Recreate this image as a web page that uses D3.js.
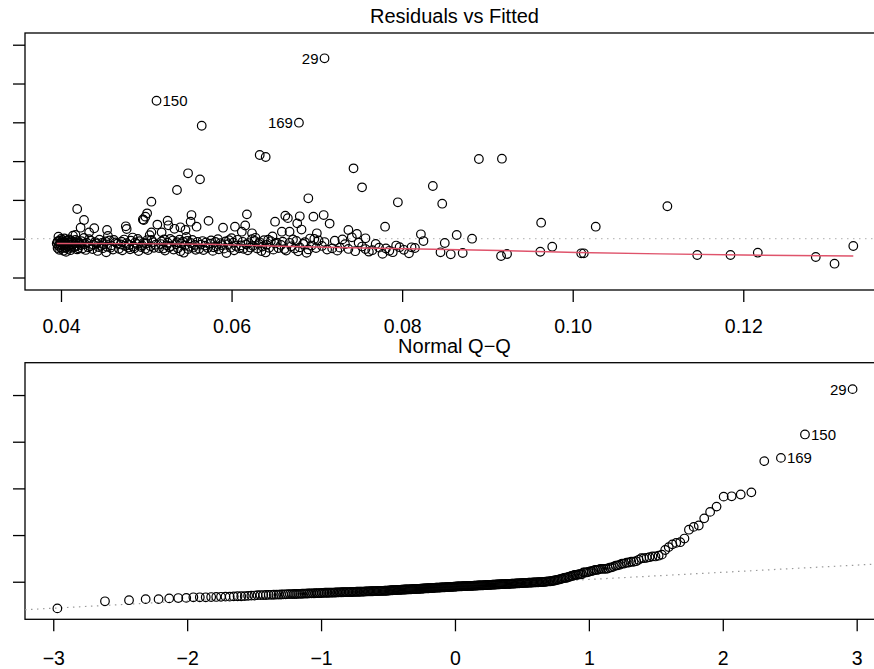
<!DOCTYPE html>
<html>
<head>
<meta charset="utf-8">
<title>Residuals vs Fitted / Normal Q-Q</title>
<script src="https://d3js.org/d3.v7.min.js"></script>
<style>
  body { margin: 0; background: #fff; }
  svg text { font-family: "Liberation Sans", Arial, sans-serif; fill: #000; }
</style>
</head>
<body>
<svg width="874" height="669" id="mainSvg"></svg>
<script>
// ---- data ----
// labelled observations: [fitted, residual]
const pointIds = ["29", "150", "169"];
const idPoints = [[0.0709, 0.2325], [0.0512, 0.1778], [0.0679, 0.1495]];

// points that stand out from the dense band
const outerPoints = [
  [0.0565,0.1456],[0.0633,0.1079],[0.0640,0.1053],[0.0549,0.0843],[0.0563,0.0765],[0.0536,0.0628],
  [0.0506,0.0477],[0.0419,0.0383],[0.0743,0.0907],[0.0753,0.0662],[0.0690,0.0521],[0.0795,0.0469],
  [0.0836,0.0679],[0.0847,0.0451],[0.0890,0.1027],[0.0917,0.1031],[0.0963,0.0206],[0.1027,0.0155],
  [0.1111,0.0418],[0.0427,0.0241],[0.0423,0.0142],[0.0433,0.0082],[0.0417,0.0048],[0.0501,0.0327],
  [0.0499,0.0284],[0.0497,0.0241],[0.0553,0.0305],[0.0552,0.0219],[0.0559,0.0155],[0.0525,0.0232],
  [0.0526,0.0173],[0.0540,0.0147],[0.0546,0.0112],[0.0506,0.0082],[0.0518,0.0082],[0.0477,0.0125],
  [0.0454,0.0112],[0.0618,0.0314],[0.0604,0.0155],[0.0612,0.0090],[0.0624,0.0070],[0.0651,0.0219],
  [0.0663,0.0296],[0.0659,0.0090],[0.0668,0.0090],[0.0677,0.0198],[0.0680,0.0289],[0.0696,0.0284],
  [0.0708,0.0305],[0.0700,0.0070],[0.0737,0.0112],[0.0747,0.0061],[0.0780,0.0155],[0.0822,0.0057],
  [0.0864,0.0048],[0.0757,0.0005],[0.0882,0.0000],[0.0825,-0.0030],[0.0850,-0.0055],[0.0845,-0.0175],
  [0.0857,-0.0201],[0.0871,-0.0184],[0.0916,-0.0223],[0.0923,-0.0197],[0.0962,-0.0168],[0.0976,-0.0103],
  [0.1010,-0.0188],[0.1013,-0.0188],[0.1146,-0.0210],[0.1185,-0.0210],[0.1217,-0.0180],[0.1285,-0.0236],
  [0.1307,-0.0322],[0.1329,-0.0094],[0.0811,-0.0111]
];

// the dense band near zero (estimated)
const bandPoints = [
  [0.0395,-0.0062],[0.0396,-0.0121],[0.0396,-0.0035],[0.0397,-0.0088],[0.0397,0.0026],[0.0398,-0.0142],
  [0.0398,-0.0025],[0.0399,-0.0110],[0.0399,-0.0071],[0.0400,-0.0048],[0.0400,-0.0004],[0.0401,-0.0128],
  [0.0401,-0.0056],[0.0402,-0.0095],[0.0402,-0.0019],[0.0403,-0.0155],[0.0403,-0.0041],[0.0404,-0.0079],
  [0.0404,0.0004],[0.0405,-0.0113],[0.0405,-0.0052],[0.0406,-0.0066],[0.0406,-0.0170],[0.0407,-0.0029],
  [0.0408,-0.0132],[0.0408,-0.0101],[0.0409,-0.0009],[0.0410,-0.0044],[0.0410,-0.0084],[0.0411,-0.0148],
  [0.0412,-0.0022],[0.0412,-0.0119],[0.0413,-0.0075],[0.0414,0.0040],[0.0414,-0.0038],[0.0415,-0.0105],
  [0.0416,-0.0109],[0.0417,-0.0058],[0.0417,-0.0014],[0.0418,-0.0092],[0.0419,-0.0032],[0.0419,-0.0138],
  [0.0420,-0.0125],[0.0421,-0.0046],[0.0422,-0.0061],
  [0.0423,-0.0083],[0.0424,-0.0031],[0.0425,-0.0127],[0.0427,0.0009],[0.0428,-0.0068],[0.0429,-0.0145],
  [0.0430,-0.0050],[0.0432,-0.0112],[0.0433,-0.0006],[0.0434,-0.0097],[0.0435,-0.0027],[0.0437,-0.0133],
  [0.0438,-0.0077],[0.0439,0.0135],[0.0440,-0.0043],[0.0442,-0.0060],[0.0443,-0.0158],[0.0444,-0.0108],
  [0.0445,-0.0012],[0.0447,-0.0090],[0.0448,-0.0054],[0.0449,-0.0122],[0.0450,-0.0070],[0.0452,-0.0036],
  [0.0453,-0.0175],[0.0454,-0.0103],[0.0455,0.0035],[0.0457,-0.0021],[0.0458,-0.0116],[0.0459,-0.0086],
  [0.0461,-0.0140],[0.0462,-0.0016],[0.0464,-0.0047],[0.0466,-0.0064],[0.0468,-0.0130],
  [0.0470,-0.0074],[0.0471,-0.0039],[0.0472,-0.0150],[0.0474,-0.0011],[0.0475,-0.0093],[0.0476,0.0160],
  [0.0477,-0.0057],[0.0479,-0.0114],[0.0480,-0.0081],[0.0481,-0.0136],[0.0482,-0.0026],[0.0484,0.0015],
  [0.0485,-0.0100],[0.0486,-0.0124],[0.0487,-0.0049],[0.0489,-0.0067],[0.0490,-0.0003],[0.0491,-0.0160],
  [0.0492,-0.0033],[0.0494,-0.0108],[0.0495,-0.0087],[0.0496,0.0248],[0.0497,-0.0053],[0.0499,-0.0131],
  [0.0500,-0.0063],[0.0501,-0.0020],[0.0502,-0.0146],[0.0504,0.0046],[0.0505,-0.0098],[0.0506,-0.0015],
  [0.0508,-0.0044],[0.0509,-0.0117],[0.0511,-0.0078],[0.0513,0.0182],[0.0515,-0.0120],
  [0.0517,-0.0069],[0.0518,-0.0034],[0.0520,-0.0126],[0.0521,-0.0008],[0.0522,-0.0152],[0.0524,-0.0085],
  [0.0525,-0.0051],[0.0527,-0.0111],[0.0528,-0.0002],[0.0529,-0.0096],[0.0531,-0.0024],[0.0532,-0.0139],
  [0.0533,0.0128],[0.0535,-0.0072],[0.0536,-0.0045],[0.0537,-0.0123],[0.0539,-0.0013],[0.0540,-0.0161],
  [0.0541,-0.0060],[0.0543,-0.0037],[0.0544,-0.0180],[0.0545,-0.0091],[0.0547,0.0022],[0.0548,-0.0028],
  [0.0549,-0.0133],[0.0551,-0.0104],[0.0552,-0.0055],[0.0554,-0.0016],[0.0555,-0.0115],[0.0557,-0.0080],
  [0.0558,-0.0143],[0.0560,-0.0041],[0.0562,-0.0129],
  [0.0564,-0.0076],[0.0566,-0.0030],[0.0567,-0.0147],[0.0569,-0.0089],[0.0570,-0.0049],[0.0572,-0.0119],
  [0.0573,0.0230],[0.0575,-0.0064],[0.0576,-0.0023],[0.0578,-0.0157],[0.0579,-0.0110],[0.0581,-0.0042],
  [0.0582,-0.0099],[0.0584,-0.0007],[0.0585,-0.0137],[0.0587,-0.0057],[0.0588,-0.0082],[0.0590,0.0142],
  [0.0591,-0.0128],[0.0593,-0.0035],[0.0594,-0.0185],[0.0596,-0.0070],[0.0597,-0.0018],[0.0599,-0.0116],
  [0.0600,0.0006],[0.0602,-0.0052],[0.0603,-0.0149],[0.0605,-0.0094],[0.0607,-0.0014],[0.0609,-0.0124],
  [0.0611,-0.0086],[0.0613,-0.0040],[0.0614,-0.0131],[0.0616,0.0170],[0.0617,-0.0073],[0.0619,-0.0150],
  [0.0620,-0.0056],[0.0622,-0.0113],[0.0624,-0.0005],[0.0625,-0.0092],[0.0627,-0.0027],[0.0628,0.0012],
  [0.0630,-0.0126],[0.0632,-0.0066],[0.0633,-0.0046],[0.0635,-0.0159],[0.0636,-0.0102],[0.0638,-0.0019],
  [0.0640,-0.0177],[0.0641,-0.0079],[0.0643,-0.0012],[0.0644,-0.0117],[0.0646,-0.0033],[0.0648,0.0030],
  [0.0649,-0.0141],[0.0651,-0.0061],[0.0653,-0.0050],[0.0655,-0.0121],
  [0.0658,-0.0080],[0.0660,-0.0038],[0.0662,-0.0134],[0.0664,-0.0153],[0.0666,0.0265],[0.0668,-0.0053],
  [0.0670,-0.0098],[0.0672,-0.0010],[0.0674,-0.0127],[0.0676,-0.0029],[0.0678,-0.0162],[0.0680,-0.0112],
  [0.0682,0.0118],[0.0684,-0.0068],[0.0686,-0.0045],[0.0688,-0.0182],[0.0690,-0.0138],[0.0692,0.0002],
  [0.0694,-0.0088],[0.0697,-0.0004],[0.0699,-0.0121],[0.0702,-0.0022],
  [0.0706,-0.0093],[0.0709,-0.0043],[0.0712,-0.0140],[0.0715,0.0195],[0.0718,-0.0125],[0.0721,-0.0026],
  [0.0724,-0.0154],[0.0727,-0.0115],[0.0730,-0.0009],[0.0733,-0.0071],[0.0737,-0.0132],[0.0741,0.0018],
  [0.0745,-0.0161],[0.0749,-0.0051],
  [0.0753,-0.0101],[0.0757,-0.0133],[0.0761,-0.0167],[0.0765,-0.0148],[0.0769,-0.0068],[0.0773,-0.0115],
  [0.0777,-0.0195],[0.0781,-0.0126],[0.0785,-0.0156],[0.0789,-0.0174],[0.0793,-0.0088],[0.0797,-0.0109],
  [0.0802,-0.0143],[0.0808,-0.0188],[0.0815,-0.0120]
];

// red smoother: [fitted, residual]
const smoothLine = [
  [0.0395,-0.0061],[0.0481,-0.0063],[0.0575,-0.0071],[0.0657,-0.0098],[0.0739,-0.0117],[0.0821,-0.0133],
  [0.0915,-0.0152],[0.1005,-0.0178],[0.1103,-0.0195],[0.1200,-0.0210],[0.1329,-0.0223]
];

const sigmaHat = 0.02817;   // residual standard error, used to standardise

const fitTicks = [0.04, 0.06, 0.08, 0.10, 0.12];
const residTicks = [-0.05, 0, 0.05, 0.10, 0.15, 0.20, 0.25];
const theoTicks = [-3, -2, -1, 0, 1, 2, 3];
const stdTicks = [0, 2, 4, 6, 8];
const titles = ["Residuals vs Fitted", "Normal Q\u2212Q"];

// ---- layout ----
const mainSvg = d3.select("#mainSvg");
const boxLeft = 25, boxRight = 884;
const topBox = {top: 33, bottom: 290};
const qqBox = {top: 362.7, bottom: 619.3};
const tickFont = 19.5, titleFont = 20, idFont = 15, radius = 4.3;

const xFit = d3.scaleLinear().domain([0.03578, 0.1365]).range([boxLeft, boxRight]);
const yRes = d3.scaleLinear().domain([-0.0661, 0.2651]).range([topBox.bottom, topBox.top]);
const xTheo = d3.scaleLinear().domain([-3.211, 3.204]).range([boxLeft, boxRight]);
const yStd = d3.scaleLinear().domain([-1.61, 9.386]).range([qqBox.bottom, qqBox.top]);

// inverse normal cdf (Acklam), for theoretical quantiles
function qnorm(p) {
    const a = [-3.969683028665376e+01, 2.209460984245205e+02, -2.759285104469687e+02, 1.383577518672690e+02, -3.066479806614716e+01, 2.506628277459239e+00];
    const b = [-5.447609879822406e+01, 1.615858368580409e+02, -1.556989798598866e+02, 6.680131188771972e+01, -1.328068155288572e+01];
    const c = [-7.784894002430293e-03, -3.223964580411365e-01, -2.400758277161838e+00, -2.549732539343734e+00, 4.374664141464968e+00, 2.938163982698783e+00];
    const d = [7.784695709041462e-03, 3.224671290700398e-01, 2.445134137142996e+00, 3.754408661907416e+00];
    const pl = 0.02425;
    if (p < pl || p > 1 - pl) {
        const q = Math.sqrt(-2 * Math.log(p < pl ? p : 1 - p));
        const v = (((((c[0]*q+c[1])*q+c[2])*q+c[3])*q+c[4])*q+c[5]) / ((((d[0]*q+d[1])*q+d[2])*q+d[3])*q+1);
        return p < pl ? v : -v;
    }
    const q = p - 0.5, r = q * q;
    return (((((a[0]*r+a[1])*r+a[2])*r+a[3])*r+a[4])*r+a[5])*q / (((((b[0]*r+b[1])*r+b[2])*r+b[3])*r+b[4])*r+1);
}

const allPoints = idPoints.concat(outerPoints, bandPoints);
const n = allPoints.length;
const stdRes = allPoints.map(d => d[1] / sigmaHat);
const order = d3.range(n).sort((i, j) => stdRes[i] - stdRes[j]);
const theo = new Array(n);
order.forEach((idx, rank) => { theo[idx] = qnorm((rank + 0.5) / n); });

// clip paths
const defs = mainSvg.append("defs");
defs.append("clipPath").attr("id", "clipTop").append("rect")
    .attr("x", boxLeft).attr("y", topBox.top).attr("width", boxRight - boxLeft).attr("height", topBox.bottom - topBox.top);
defs.append("clipPath").attr("id", "clipQQ").append("rect")
    .attr("x", boxLeft).attr("y", qqBox.top).attr("width", boxRight - boxLeft).attr("height", qqBox.bottom - qqBox.top);

function drawFrame(box, xScale, yScale, xTicks, yTicks, xFormat, pad, title, titleY) {
    const xa = mainSvg.append("g")
        .attr("transform", `translate(0, ${box.bottom})`)
        .call(d3.axisBottom(xScale).tickValues(xTicks).tickFormat(xFormat).tickSize(12).tickPadding(pad));
    const ya = mainSvg.append("g")
        .attr("transform", `translate(${boxLeft}, 0)`)
        .call(d3.axisLeft(yScale).tickValues(yTicks).tickFormat("").tickSize(12));
    [xa, ya].forEach(ax => {
        ax.select(".domain").remove();
        ax.selectAll(".tick line").attr("stroke", "#000").attr("stroke-width", 1.3);
        ax.selectAll(".tick text").attr("font-size", tickFont).attr("fill", "#000")
            .style("font-family", '"Liberation Sans", Arial, sans-serif');
    });
    mainSvg.append("rect")
        .attr("x", boxLeft).attr("y", box.top)
        .attr("width", boxRight - boxLeft).attr("height", box.bottom - box.top)
        .attr("fill", "none").attr("stroke", "#000").attr("stroke-width", 1.3);
    mainSvg.append("text")
        .text(title)
        .attr("x", (boxLeft + boxRight) / 2).attr("y", titleY)
        .attr("text-anchor", "middle").attr("font-size", titleFont);
}

// ---- Residuals vs Fitted ----
drawFrame(topBox, xFit, yRes, fitTicks, residTicks, d3.format(".2f"), 17.5, titles[0], 22.7);

const gTop = mainSvg.append("g").attr("clip-path", "url(#clipTop)");
gTop.append("line")
    .attr("x1", boxLeft).attr("x2", boxRight)
    .attr("y1", yRes(0)).attr("y2", yRes(0))
    .attr("stroke", "#BEBEBE").attr("stroke-width", 1.2).attr("stroke-dasharray", "1.5,4.5");
gTop.selectAll(".resPt").data(allPoints).enter().append("circle")
    .attr("class", "resPt")
    .attr("cx", d => xFit(d[0])).attr("cy", d => yRes(d[1])).attr("r", radius)
    .attr("fill", "none").attr("stroke", "#000").attr("stroke-width", 1.2);
gTop.append("path")
    .datum(smoothLine)
    .attr("d", d3.line().x(d => xFit(d[0])).y(d => yRes(d[1])))
    .attr("fill", "none").attr("stroke", "#DF536B").attr("stroke-width", 1.4);

const topSide = {"29": -1, "150": 1, "169": -1};
mainSvg.selectAll(".topId").data(pointIds).enter().append("text")
    .attr("class", "topId")
    .text(d => d)
    .attr("x", (d, i) => xFit(idPoints[i][0]) + topSide[d] * 6)
    .attr("y", (d, i) => yRes(idPoints[i][1]) + idFont * 0.36)
    .attr("text-anchor", d => topSide[d] < 0 ? "end" : "start")
    .attr("font-size", idFont);

// ---- Normal Q-Q ----
drawFrame(qqBox, xTheo, yStd, theoTicks, stdTicks, d3.format("d"), 19.9, titles[1], 352.7);

const sortedStd = order.map(i => stdRes[i]);
const q1 = d3.quantile(sortedStd, 0.25), q3 = d3.quantile(sortedStd, 0.75);
const z1 = qnorm(0.25), z3 = qnorm(0.75);
const slope = (q3 - q1) / (z3 - z1), intercept = q1 - slope * z1;
const xEnds = xTheo.domain();

const gQQ = mainSvg.append("g").attr("clip-path", "url(#clipQQ)");
gQQ.append("line")
    .attr("x1", xTheo(xEnds[0])).attr("x2", xTheo(xEnds[1]))
    .attr("y1", yStd(intercept + slope * xEnds[0])).attr("y2", yStd(intercept + slope * xEnds[1]))
    .attr("stroke", "#9A9A9A").attr("stroke-width", 1.2).attr("stroke-dasharray", "1.5,4.5");
gQQ.selectAll(".qqPt").data(d3.range(n)).enter().append("circle")
    .attr("class", "qqPt")
    .attr("cx", i => xTheo(theo[i])).attr("cy", i => yStd(stdRes[i])).attr("r", radius)
    .attr("fill", "none").attr("stroke", "#000").attr("stroke-width", 1.2);

const qqSide = {"29": -1, "150": 1, "169": 1};
mainSvg.selectAll(".qqId").data(pointIds).enter().append("text")
    .attr("class", "qqId")
    .text(d => d)
    .attr("x", (d, i) => xTheo(theo[i]) + qqSide[d] * 6)
    .attr("y", (d, i) => yStd(stdRes[i]) + idFont * 0.36)
    .attr("text-anchor", d => qqSide[d] < 0 ? "end" : "start")
    .attr("font-size", idFont);
</script>
</body>
</html>
